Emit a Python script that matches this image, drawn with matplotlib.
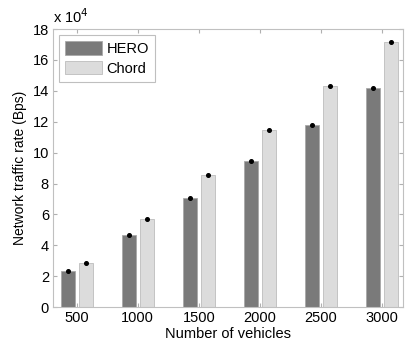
import numpy as np
import matplotlib
matplotlib.use('Agg')
import matplotlib.pyplot as plt

plt.rcParams['font.family'] = ['Liberation Sans', 'DejaVu Sans']

vehiculos = ['500', '1000', '1500', '2000', '2500', '3000']
hero = [2.33, 4.68, 7.05, 9.48, 11.82, 14.2]
chord = [2.85, 5.7, 8.55, 11.45, 14.3, 17.15]
err_hero = [0.05, 0.05, 0.05, 0.05, 0.05, 0.05]
err_chord = [0.05, 0.05, 0.05, 0.05, 0.05, 0.05]

fig = plt.figure(figsize=(4.05, 3.42), dpi=100)
ax = fig.add_axes([0.131, 0.102, 0.864, 0.813])

x = np.arange(1, len(vehiculos) + 1)
ancho = 0.23
desp = 0.148
ax.bar(x - desp, hero, ancho, color='#7a7a7a', edgecolor='#a8a8a8', linewidth=0.6, label='HERO')
ax.bar(x + desp, chord, ancho, color='#dcdcdc', edgecolor='#bcbcbc', linewidth=0.6, label='Chord')
ax.errorbar(x - desp, hero, yerr=err_hero, fmt='o', color='black', ms=2.6, elinewidth=0.8, capsize=0)
ax.errorbar(x + desp, chord, yerr=err_chord, fmt='o', color='black', ms=2.6, elinewidth=0.8, capsize=0)

ax.set_xlim(0.61, 6.35)
ax.set_ylim(0, 18)
ax.set_xticks(x)
ax.set_xticklabels(vehiculos)
ax.set_yticks(np.arange(0, 19, 2))
ax.tick_params(direction='in', length=3, color='#b0b0b0', labelsize=10.5,
               top=True, right=True, pad=3)
for s in ax.spines.values():
    s.set_color('#c0c0c0')
    s.set_linewidth(0.8)

ax.set_xlabel('Number of vehicles', fontsize=10.5, labelpad=1)
ax.set_ylabel('Network traffic rate (Bps)', fontsize=10, labelpad=4)
ax.text(0.0, 1.012, r'x 10$^4$', transform=ax.transAxes, fontsize=10.5, va='bottom', ha='left')

leg = ax.legend(loc='upper left', fontsize=10.5, fancybox=False, edgecolor='#b0b0b0',
                handlelength=2.5, handleheight=1.0, borderaxespad=0.4, labelspacing=0.35,
                handletextpad=0.3, borderpad=0.45)
leg.get_frame().set_linewidth(0.8)

fig.savefig('out.png', dpi=100)
